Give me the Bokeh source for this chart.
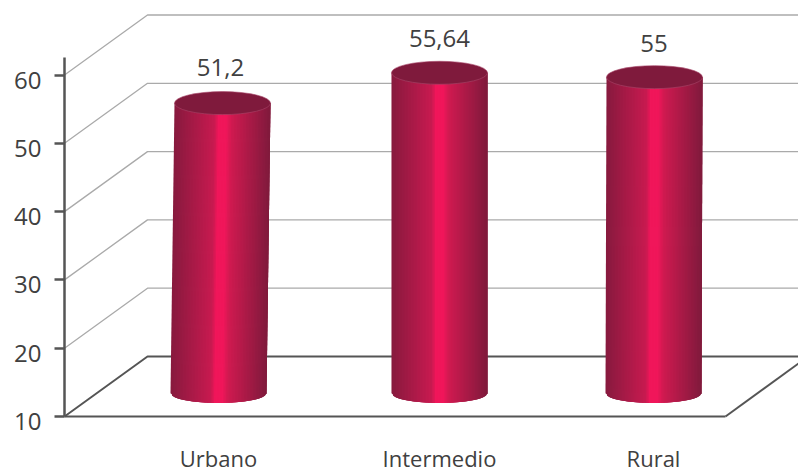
from bokeh.plotting import figure
from bokeh.models import Range1d, FixedTicker, LinearAxis
from bokeh.embed import file_html
from bokeh.resources import INLINE
from bokeh.core.properties import value
import numpy as np

categories = ["Urbano", "Intermedio", "Rural"]
values = [51.2, 55.64, 55]
value_labels = ["51,2", "55,64", "55"]
y_ticks = [10, 20, 30, 40, 50, 60]

FONT = "Open Sans"
TEXT = "#404040"
AXIS = "#555555"
GRID = "#aaaaaa"

# layout helpers: scale of the chart (pixels per data unit)
PX_Y = 6.83
PX_X = 217.5
DEPTH_X = 83 / PX_X          # side-wall depth
DEPTH_Y = 60 / PX_Y
BAR_W = 96 / PX_X
ELL_H = 23 / PX_Y
BAR_LIFT = 32 / PX_Y         # bars stand part way into the depth
BAR_BASE = 13.4
SHIFT = [0.0, 0.016, 0.0]    # small offset of each cylinder
LEAN = [4 / PX_X, 0.0, 1 / PX_X]

x_start = -154 / PX_X
x_end = 580 / PX_X
x_floor_end = 507 / PX_X

# the frame fills the figure, so the axes stand inside it at fixed locations
p = figure(width=798, height=473, output_backend="svg", toolbar_location=None,
           x_range=Range1d(x_start - 64 / PX_X, x_end),
           y_range=Range1d(10 - 57 / PX_Y, 10 + 416 / PX_Y),
           x_axis_type=None, y_axis_type=None,
           min_border_left=0, min_border_right=0, min_border_top=0, min_border_bottom=0)
p.outline_line_color = None
p.background_fill_color = "white"
p.xgrid.visible = False
p.ygrid.visible = False

wall = [t for t in y_ticks if t > 10]
p.multi_line([[x_start, x_start + DEPTH_X, x_end] for _ in wall],
             [[t, t + DEPTH_Y, t + DEPTH_Y] for t in wall],
             line_color=GRID, line_width=1.3)
p.line([x_start, x_start + DEPTH_X, x_end], [10, 10 + DEPTH_Y, 10 + DEPTH_Y],
       line_color=AXIS, line_width=2)
p.line([x_floor_end, x_end], [10, 10 + 53 / PX_Y], line_color=AXIS, line_width=2)


def hexmix(a, b, t):
    ca = [int(a[i:i + 2], 16) for i in (1, 3, 5)]
    cb = [int(b[i:i + 2], 16) for i in (1, 3, 5)]
    return "#%02x%02x%02x" % tuple(round(u + (w - u) * t) for u, w in zip(ca, cb))


stops = [(0.0, "#871a3e"), (0.42, "#c81a50"), (0.46, "#f0165a"), (0.54, "#f0165a"),
         (0.60, "#cf1a50"), (1.0, "#7f1a3c")]


def shade(t):
    for (t0, c0), (t1, c1) in zip(stops, stops[1:]):
        if t <= t1:
            return hexmix(c0, c1, (t - t0) / (t1 - t0))
    return stops[-1][1]


N = 64
for i, v in enumerate(values):
    cx = i + SHIFT[i]
    top = v + BAR_LIFT
    xs, ys, cols = [], [], []
    for k in range(N):
        t0, t1 = k / N, min(1.0, (k + 3) / N)
        u0, u1 = 2 * t0 - 1, 2 * t1 - 1
        drop0 = (ELL_H * 0.42) * np.sqrt(max(0, 1 - u0 * u0))
        drop1 = (ELL_H * 0.42) * np.sqrt(max(0, 1 - u1 * u1))
        left0 = cx + (t0 - 0.5) * BAR_W
        left1 = cx + (t1 - 0.5) * BAR_W
        xs.append([left0, left1, left1 + LEAN[i], left0 + LEAN[i]])
        ys.append([BAR_BASE - drop0, BAR_BASE - drop1, top, top])
        cols.append(shade((k + 0.5) / N))
    p.patches(xs, ys, fill_color=cols, line_color=None)
    p.ellipse([cx + LEAN[i]], [top], width=BAR_W, height=ELL_H,
              fill_color="#7f1a3c", line_color="#a8466a", line_width=0.6)

p.text([i + SHIFT[i] + LEAN[i] * 0.5 for i in range(3)],
       [v + BAR_LIFT for v in values], text=value_labels,
       y_offset=[-36, -34, -34], text_align="center", text_baseline="middle",
       text_font=value(FONT), text_font_size="24px", text_color=TEXT)

yaxis = LinearAxis(ticker=FixedTicker(ticks=y_ticks), bounds=(10, 62.6),
                   fixed_location=x_start,
                   major_label_overrides={t: "" for t in y_ticks})
yaxis.axis_line_color = AXIS
yaxis.axis_line_width = 2.5
yaxis.major_tick_line_color = AXIS
yaxis.major_tick_line_width = 2.5
yaxis.major_tick_in = 0
yaxis.major_tick_out = 10
yaxis.minor_tick_line_color = None
yaxis.major_label_text_font_size = "1px"
p.add_layout(yaxis, "left")

xaxis = LinearAxis(ticker=FixedTicker(ticks=[0, 1, 2]), bounds=(x_start, x_floor_end),
                   fixed_location=10,
                   major_label_overrides={i: "" for i in range(3)})
xaxis.axis_line_color = AXIS
xaxis.axis_line_width = 2
xaxis.major_tick_line_color = None
xaxis.minor_tick_line_color = None
xaxis.major_tick_in = 0
xaxis.major_tick_out = 0
xaxis.major_label_text_font_size = "1px"
p.add_layout(xaxis, "below")

# tick and category labels, placed on the same scales
p.text([x_start] * len(y_ticks), y_ticks, text=[str(t) for t in y_ticks],
       x_offset=-23, y_offset=5, text_align="right", text_baseline="middle",
       text_font=value(FONT), text_font_size="24px", text_color=TEXT)
p.text([i + SHIFT[i] for i in range(3)], [10] * 3, text=categories,
       y_offset=41, text_align="center", text_baseline="middle",
       text_font=value(FONT), text_font_size="22px", text_color=TEXT)

open("out.html", "w").write(file_html(p, INLINE))
